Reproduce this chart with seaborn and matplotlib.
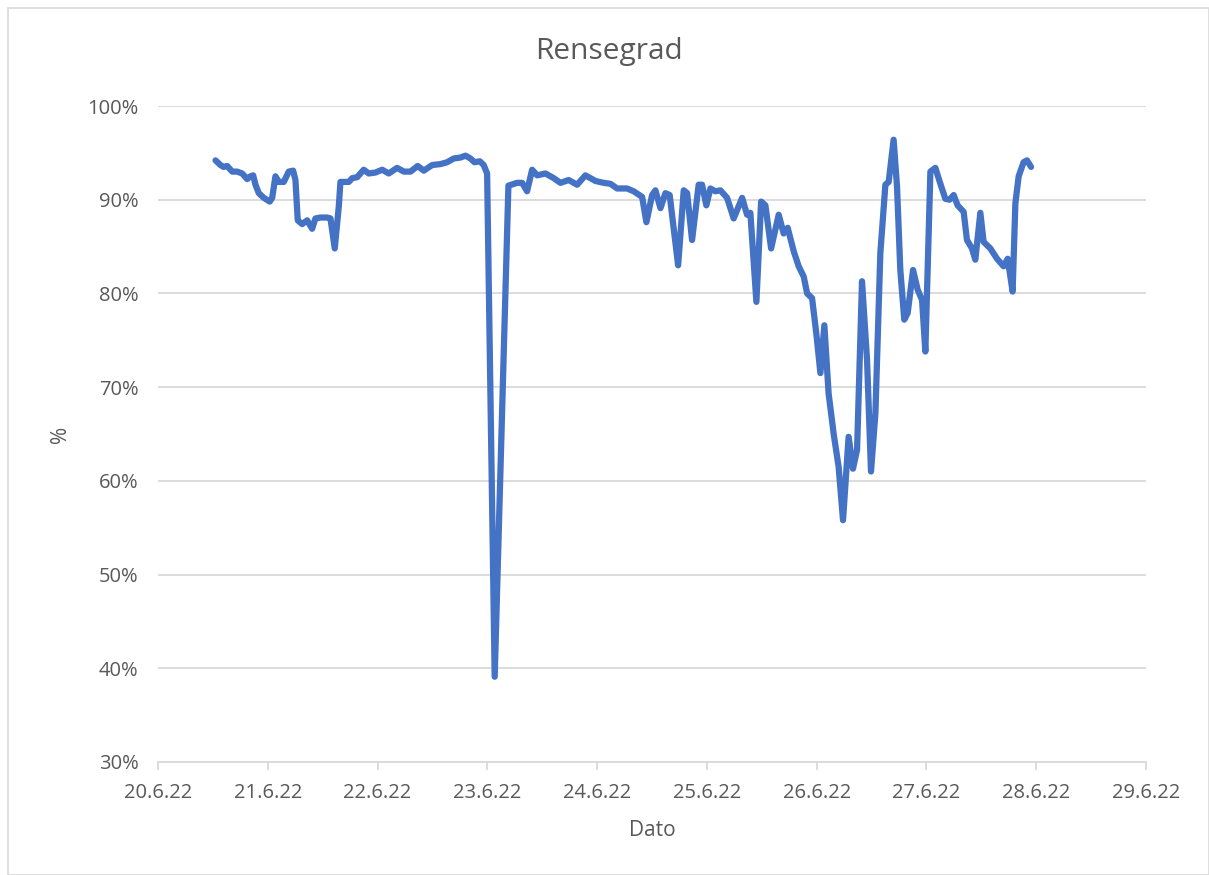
import seaborn as sns
import matplotlib.pyplot as plt
import matplotlib.dates as mdates
from matplotlib.ticker import FuncFormatter, MultipleLocator
from matplotlib.patches import Rectangle
import pandas as pd

# Tidspunkt som dag i juni 2022 (desimal) og rensegrad i prosent
dag = [
    20.524, 20.569, 20.597, 20.630, 20.676, 20.721, 20.767, 20.812, 20.842, 20.867,
    20.888, 20.918, 20.964, 21.018, 21.040, 21.070, 21.100, 21.146, 21.191, 21.231,
    21.252, 21.273, 21.313, 21.359, 21.404, 21.434, 21.480, 21.541, 21.571, 21.610,
    21.647, 21.662, 21.708, 21.738, 21.769, 21.814, 21.874, 21.920, 21.981, 22.042,
    22.102, 22.178, 22.239, 22.300, 22.366, 22.421, 22.497, 22.573, 22.634, 22.694,
    22.755, 22.801, 22.846, 22.883, 22.931, 22.967, 22.998, 23.067, 23.192, 23.271,
    23.317, 23.362, 23.408, 23.454, 23.529, 23.605, 23.666, 23.741, 23.818, 23.893,
    23.985, 24.060, 24.121, 24.182, 24.273, 24.333, 24.410, 24.449, 24.501, 24.531,
    24.577, 24.622, 24.661, 24.738, 24.789, 24.820, 24.865, 24.925, 24.956, 24.995,
    25.032, 25.077, 25.123, 25.184, 25.244, 25.321, 25.366, 25.396, 25.451, 25.494,
    25.533, 25.585, 25.654, 25.699, 25.736, 25.791, 25.836, 25.882, 25.913, 25.958,
    25.997, 26.034, 26.070, 26.109, 26.155, 26.200, 26.240, 26.291, 26.331, 26.368,
    26.413, 26.459, 26.495, 26.535, 26.580, 26.626, 26.656, 26.701, 26.732, 26.762,
    26.798, 26.829, 26.878, 26.920, 26.960, 26.990, 27.036, 27.081, 27.127, 27.172,
    27.211, 27.248, 27.284, 27.339, 27.369, 27.415, 27.445, 27.491, 27.521, 27.582,
    27.643, 27.703, 27.740, 27.785, 27.810, 27.840, 27.885, 27.916, 27.953,
]
rensegrad = [
    94.2, 93.7, 93.5, 93.6, 93.0, 93.0, 92.8, 92.2, 92.5, 92.6,
    91.6, 90.7, 90.2, 89.8, 90.2, 92.5, 91.9, 91.9, 93.0, 93.1,
    92.1, 87.8, 87.4, 87.8, 86.9, 88.0, 88.1, 88.1, 88.0, 84.8,
    89.3, 91.9, 91.9, 91.9, 92.3, 92.4, 93.2, 92.8, 92.9, 93.2,
    92.8, 93.4, 93.0, 93.0, 93.6, 93.1, 93.7, 93.8, 94.0, 94.4,
    94.5, 94.7, 94.4, 94.0, 94.1, 93.7, 92.8, 39.1, 91.5, 91.8,
    91.8, 90.9, 93.2, 92.6, 92.8, 92.3, 91.8, 92.1, 91.6, 92.6,
    92.0, 91.8, 91.7, 91.2, 91.2, 90.9, 90.3, 87.6, 90.5, 91.0,
    89.1, 90.7, 90.5, 83.0, 91.0, 90.7, 85.7, 91.6, 91.6, 89.4,
    91.2, 90.9, 91.0, 90.2, 88.0, 90.2, 88.4, 88.6, 79.1, 89.8,
    89.4, 84.8, 88.4, 86.4, 87.0, 84.5, 82.9, 81.8, 80.0, 79.5,
    75.7, 71.5, 76.6, 69.3, 65.0, 61.5, 55.8, 64.7, 61.3, 63.3,
    81.3, 72.9, 61.0, 67.2, 84.3, 91.6, 91.9, 96.4, 91.4, 82.5,
    77.2, 77.9, 82.5, 80.4, 79.3, 73.8, 93.0, 93.4, 91.7, 90.1,
    90.0, 90.5, 89.4, 88.7, 85.7, 84.8, 83.6, 88.6, 85.5, 84.8,
    83.7, 82.9, 83.7, 80.2, 89.6, 92.5, 94.0, 94.2, 93.5,
]

start = pd.Timestamp("2022-06-01")
df = pd.DataFrame({
    "Dato": start + pd.to_timedelta([d - 1 for d in dag], unit="D"),
    "Rensegrad": [v / 100 for v in rensegrad],
})

sns.set_theme(style="white")
plt.rcParams["font.family"] = ["Open Sans", "DejaVu Sans"]

tekst = "#595959"
grid = "#D9D9D9"

fig = plt.figure(figsize=(12.09, 8.75), dpi=100)
ax = fig.add_axes([158 / 1209, 1 - 762 / 875, (1146 - 158) / 1209, (762 - 106) / 875])

sns.lineplot(data=df, x="Dato", y="Rensegrad", ax=ax, color="#4472C4", linewidth=4.5)
ax.lines[0].set_solid_joinstyle("round")
ax.lines[0].set_solid_capstyle("round")

# akser
ax.set_ylim(0.30, 1.00)
ax.set_xlim(pd.Timestamp("2022-06-20"), pd.Timestamp("2022-06-29"))
ax.yaxis.set_major_locator(MultipleLocator(0.10))
ax.yaxis.set_major_formatter(FuncFormatter(lambda v, p: f"{v * 100:.0f}%"))
ax.xaxis.set_major_locator(mdates.DayLocator())
ax.xaxis.set_major_formatter(FuncFormatter(
    lambda v, p: f"{mdates.num2date(v).day}.{mdates.num2date(v).month}.{mdates.num2date(v):%y}"))

ax.grid(axis="y", color=grid, linewidth=1.3)
ax.set_axisbelow(True)
for s in ["left", "right", "top"]:
    ax.spines[s].set_visible(False)
ax.spines["bottom"].set_color(grid)
ax.spines["bottom"].set_linewidth(1.3)

ax.tick_params(axis="y", length=0, pad=14, labelsize=14.5, labelcolor=tekst)
ax.tick_params(axis="x", length=6, width=1.3, color=grid, pad=9, labelsize=14.5,
               labelcolor=tekst, bottom=True, direction="out")

ax.set_xlabel("Dato", fontsize=15, color=tekst, labelpad=12)
ax.set_ylabel("%", fontsize=15, color=tekst, labelpad=12)
fig.text(609 / 1209, 1 - 52 / 875, "Rensegrad", fontsize=21.5, color=tekst,
         ha="center", va="center")

# ramme rundt diagramområdet
fig.patches.append(Rectangle((8 / 1209, 0), 1 - 8 / 1209, 1 - 8 / 875,
                             transform=fig.transFigure, fill=False,
                             edgecolor=grid, linewidth=1.2))

plt.savefig("out.png", dpi=100)
